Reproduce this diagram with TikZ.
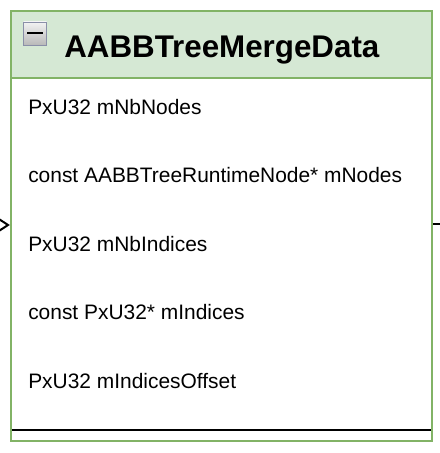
\documentclass[tikz,border=0pt]{standalone}
\usepackage{fontspec}
\setmainfont{Liberation Sans}
\usetikzlibrary{arrows.meta}
\definecolor{boxline}{HTML}{82B366}
\definecolor{boxfill}{HTML}{D5E8D4}
\definecolor{iconline}{HTML}{8A8FA8}

\begin{document}
\begin{tikzpicture}[x=0.75pt, y=-0.75pt,
  field/.style={anchor=base west, inner sep=0pt, font=\fontsize{15.7pt}{18pt}\selectfont}]
  \useasboundingbox (0,0) rectangle (439,453);

  % class box
  \node (cls) [draw=boxline, fill=white, line width=1.7pt, minimum width=421*0.75pt,
    minimum height=430*0.75pt, inner sep=0pt] at (221.5,226){};
  \node (head) [draw=boxline, fill=boxfill, line width=1.7pt, minimum width=421*0.75pt,
    minimum height=67*0.75pt, inner sep=0pt, anchor=north] at (cls.north){};

  % collapse icon
  \node (icon) [draw=iconline, top color=white!90!gray, bottom color=gray!55,
    minimum size=23*0.75pt, inner sep=0pt] at (35,33.5){};
  \draw [line width=1.5pt] ([xshift=3pt]icon.west) -- ([xshift=-3pt]icon.east);

  % title
  \node (title) [anchor=base west, inner sep=0pt, font=\fontsize{23.5pt}{28pt}\selectfont\bfseries]
    at (64,58){AABBTreeMergeData};

  % fields
  \node (f1) [field] at (28,114){PxU32 mNbNodes};
  \node (f2) [field] at (28,182.5){const AABBTreeRuntimeNode* mNodes};
  \node (f3) [field] at (28,251){PxU32 mNbIndices};
  \node (f4) [field] at (28,319.5){const PxU32* mIndices};
  \node (f5) [field] at (28,388){PxU32 mIndicesOffset};

  % separator
  \coordinate (sepl) at (12,430);
  \coordinate (sepr) at (431,430);
  \draw [line width=1.6pt] (sepl) -- (sepr);

  % incoming and outgoing edges
  \coordinate (src) at (8,225);
  \coordinate (dst) at (470,224);
  \draw [line width=1.5pt, -{Straight Barb[length=6.5pt, width=8.5pt]}] (src) -- (src -| cls.west);
  \draw [line width=1.5pt] (cls.east |- dst) -- (dst);
\end{tikzpicture}
\end{document}
